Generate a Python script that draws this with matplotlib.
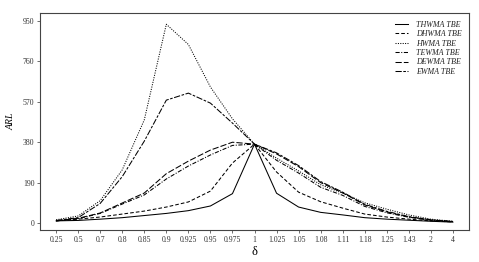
import matplotlib
matplotlib.use("Agg")
import matplotlib.pyplot as plt

delta_labels = ["0.25", "0.5", "0.7", "0.8", "0.85", "0.9", "0.925", "0.95", "0.975",
                "1", "1.025", "1.05", "1.08", "1.11", "1.18", "1.25", "1.43", "2", "4"]

thwma = [10, 12, 18, 25, 35, 45, 58, 80, 138, 371, 140, 75, 50, 38, 25, 18, 13, 8, 4]
dhwma = [10, 18, 28, 42, 56, 75, 99, 150, 282, 371, 240, 145, 100, 70, 42, 28, 18, 10, 5]
hwma = [15, 33, 105, 250, 485, 935, 840, 640, 490, 371, 305, 245, 180, 140, 95, 65, 38, 18, 8]
tewma = [10, 20, 45, 89, 132, 207, 268, 320, 365, 371, 295, 235, 168, 130, 78, 48, 27, 13, 6]
dewma = [10, 22, 47, 94, 141, 232, 291, 343, 380, 371, 325, 265, 190, 142, 85, 52, 28, 14, 7]
ewma = [12, 25, 92, 218, 385, 578, 611, 564, 470, 371, 330, 270, 195, 145, 88, 55, 30, 15, 7]

series_names = ["THWMA TBE", "DHWMA TBE", "HWMA TBE", "TEWMA TBE", "DEWMA TBE", "EWMA TBE"]
series_vals = [thwma, dhwma, hwma, tewma, dewma, ewma]
styles = ["-", (0, (3.5, 2)), (0, (1, 1.3)), (0, (4, 1.5, 1, 1.5)), (0, (6, 2)), (0, (6, 1.5, 2.5, 1.5))]
yticks = [0, 190, 380, 570, 760, 950]

plt.rcParams["font.family"] = ["Liberation Serif", "DejaVu Serif"]

fig = plt.figure(figsize=(4.79, 2.62), dpi=100)
ax = fig.add_axes([40/479, 1 - 230/262, 429/479, 217/262])

x = list(range(len(delta_labels)))
for name, vals, ls in zip(series_names, series_vals, styles):
    ax.plot(x, vals, color="black", linestyle=ls, linewidth=0.75, label=name)

ax.set_xlim(-0.73, len(delta_labels) - 1 + 0.73)
ax.set_ylim(-33, 988)
ax.set_xticks(x)
ax.set_xticklabels(delta_labels)
ax.set_yticks(yticks)
ax.tick_params(axis="both", labelsize=5.6, colors="#333333", length=2, width=0.5, pad=2)
for sp in ax.spines.values():
    sp.set_color("#444444")
    sp.set_linewidth(0.8)

ax.set_ylabel("ARL", fontstyle="italic", fontsize=7, labelpad=5)
ax.set_xlabel("δ", fontsize=9, labelpad=2)

leg = ax.legend(loc="upper right", frameon=False, fontsize=5.8, handlelength=1.6,
                handletextpad=1.0, labelspacing=0.18, borderaxespad=0.55)
for t in leg.get_texts():
    t.set_fontstyle("italic")
    t.set_color("#222222")

fig.savefig("out.png", dpi=100)
